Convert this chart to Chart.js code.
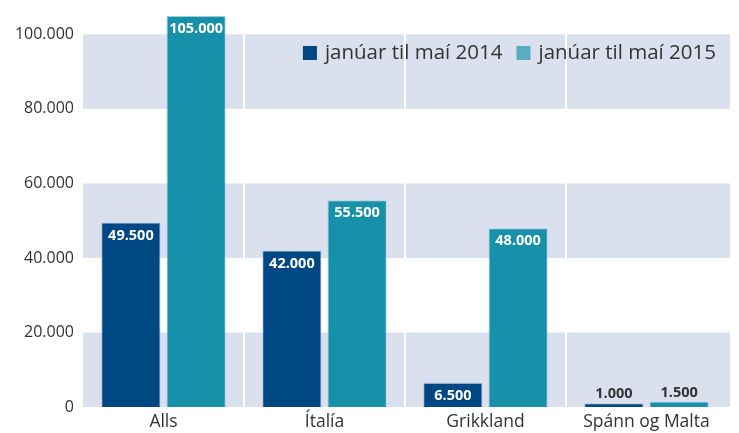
<!DOCTYPE html>
<html>
<head>
<meta charset="utf-8">
<script src="https://cdn.jsdelivr.net/npm/chart.js@4"></script>
<style>
  html, body { margin: 0; padding: 0; background: #fff; }
  #wrap { width: 739px; height: 433px; position: relative; }
</style>
</head>
<body>
<div id="wrap"><canvas id="ferdir_Chart"></canvas></div>
<script>
const categories = ['Alls', 'Ítalía', 'Grikkland', 'Spánn og Malta'];
const series_labels = ['janúar til maí 2014', 'janúar til maí 2015'];
const data_2014 = [49500, 42000, 6500, 1000];
const data_2015 = [105000, 55500, 48000, 1500];
const y_ticks = [0, 20000, 40000, 60000, 80000, 100000];

const dark_blue = '#004883';
const teal = '#1791a9';
const legend_teal = '#5aadc0';
const band_color = '#dbe0ee';
const text_color = '#333333';

function fmt(v) {
  return String(v).replace(/\B(?=(\d{3})+(?!\d))/g, '.');
}

// bakgrunnsrendur og hvítar skillínur milli flokka
const bandsPlugin = {
  id: 'bands',
  beforeDatasetsDraw(chart) {
    const ctx = chart.ctx, area = chart.chartArea;
    const y = chart.scales.y, x = chart.scales.x;
    ctx.save();
    ctx.fillStyle = band_color;
    for (let i = 0; i < y_ticks.length - 1; i += 2) {
      const top = y.getPixelForValue(y_ticks[i + 1]);
      const bottom = y.getPixelForValue(y_ticks[i]);
      ctx.fillRect(area.left, top, area.right - area.left + 3, bottom - top);
    }
    ctx.strokeStyle = '#ffffff';
    ctx.lineWidth = 2;
    for (let i = 0; i < categories.length - 1; i++) {
      const px = (x.getPixelForTick(i) + x.getPixelForTick(i + 1)) / 2;
      ctx.beginPath();
      ctx.moveTo(px, area.top);
      ctx.lineTo(px, area.bottom);
      ctx.stroke();
    }
    ctx.restore();
  }
};

// gildi á súlum
const valueLabels = {
  id: 'valueLabels',
  afterDatasetsDraw(chart) {
    const ctx = chart.ctx;
    ctx.save();
    ctx.font = 'bold 14.5px "Open Sans"';
    ctx.textAlign = 'center';
    ctx.textBaseline = 'middle';
    chart.data.datasets.forEach((ds, di) => {
      const meta = chart.getDatasetMeta(di);
      meta.data.forEach((bar, i) => {
        const txt = fmt(ds.data[i]);
        if (bar.base - bar.y > 22) {
          ctx.fillStyle = '#ffffff';
          ctx.fillText(txt, bar.x, bar.y + 13);
        } else {
          ctx.fillStyle = text_color;
          ctx.fillText(txt, bar.x, bar.y - 9);
        }
      });
    });
    ctx.restore();
  }
};

// skýringar inni í teikningunni efst til hægri
const insideLegend = {
  id: 'insideLegend',
  afterDraw(chart) {
    const ctx = chart.ctx, area = chart.chartArea;
    const colors = [dark_blue, legend_teal];
    ctx.save();
    ctx.font = '20.5px "Open Sans"';
    ctx.textBaseline = 'middle';
    const box = 14, gap = 8, itemGap = 14;
    let total = 0;
    series_labels.forEach((l, i) => {
      total += box + gap + ctx.measureText(l).width + (i ? itemGap : 0);
    });
    let cx = area.right + 3 - 14 - total;
    const cy = area.top + 41;
    series_labels.forEach((l, i) => {
      if (i) cx += itemGap;
      ctx.fillStyle = colors[i];
      ctx.fillRect(cx, cy - box / 2, box, box);
      cx += box + gap;
      ctx.fillStyle = text_color;
      ctx.fillText(l, cx, cy);
      cx += ctx.measureText(l).width;
    });
    ctx.restore();
  }
};

const ferdir_data = {
  labels: categories,
  datasets: [{
    label: series_labels[0],
    data: data_2014,
    backgroundColor: dark_blue,
    borderColor: 'rgba(150, 175, 205, 0.6)',
    borderWidth: 1
  }, {
    label: series_labels[1],
    data: data_2015,
    backgroundColor: teal,
    borderColor: 'rgba(150, 200, 215, 0.6)',
    borderWidth: 1
  }]
};

const ferdir_config = {
  type: 'bar',
  data: ferdir_data,
  options: {
    responsive: true,
    maintainAspectRatio: false,
    animation: false,
    layout: {
      padding: { top: 12, right: 12, bottom: 0, left: 0 }
    },
    categoryPercentage: 0.81,
    barPercentage: 0.91,
    plugins: {
      legend: { display: false },
      tooltip: { enabled: false }
    },
    scales: {
      x: {
        grid: { display: false, drawTicks: false },
        border: { display: false },
        afterFit(scale) {
          scale.height = 26;
        },
        ticks: {
          color: text_color,
          font: { family: '"Open Sans"', size: 17.5 },
          padding: 5
        }
      },
      y: {
        min: 0,
        max: 106000,
        // tickLength í stað padding svo efri mörk teiknisvæðis hliðrist ekki
        grid: { display: false, drawTicks: true, tickLength: 9 },
        border: { display: false },
        afterBuildTicks(scale) {
          scale.ticks = y_ticks.map(v => ({ value: v }));
        },
        afterFit(scale) {
          scale.width = 83;
        },
        ticks: {
          color: text_color,
          font: { family: '"Open Sans"', size: 16 },
          padding: 0,
          callback: v => fmt(v)
        }
      }
    }
  },
  plugins: [bandsPlugin, valueLabels, insideLegend]
};

let ferdirChart = new Chart(
  document.getElementById('ferdir_Chart'),
  ferdir_config
);
</script>
</body>
</html>
